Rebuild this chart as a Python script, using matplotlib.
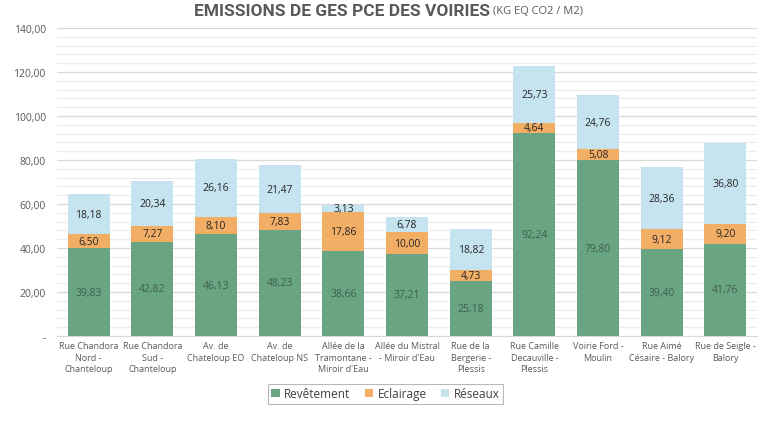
import matplotlib
matplotlib.use("Agg")
import matplotlib.pyplot as plt
from matplotlib.ticker import MultipleLocator, FuncFormatter
import numpy as np

categories = ["Rue Chandora\nNord -\nChanteloup", "Rue Chandora\nSud -\nChanteloup", "Av. de\nChateloup EO",
              "Av. de\nChateloup NS", "Allée de la\nTramontane -\nMiroir d'Eau", "Allée du Mistral\n- Miroir d'Eau",
              "Rue de la\nBergerie -\nPlessis", "Rue Camille\nDecauville -\nPlessis", "Voirie Ford -\nMoulin",
              "Rue Aimé\nCésaire - Balory", "Rue de Seigle -\nBalory"]
revetement = [39.83, 42.82, 46.13, 48.23, 38.66, 37.21, 25.18, 92.24, 79.80, 39.40, 41.76]
eclairage = [6.50, 7.27, 8.10, 7.83, 17.86, 10.00, 4.73, 4.64, 5.08, 9.12, 9.20]
reseaux = [18.18, 20.34, 26.16, 21.47, 3.13, 6.78, 18.82, 25.73, 24.76, 28.36, 36.80]
series_names = ["Revêtement", "Eclairage", "Réseaux"]

c_green = "#69a583"
c_orange = "#f3ae66"
c_blue = "#c6e4ef"

plt.rcParams['font.family'] = ['Open Sans', 'DejaVu Sans']

fig = plt.figure(figsize=(7.68, 4.27), dpi=100)
ax = fig.add_axes([0.074, 0.211, 0.912, 0.721])

x = np.arange(len(categories))
w = 0.66
rev = np.array(revetement); ecl = np.array(eclairage); res = np.array(reseaux)
b1 = ax.bar(x, rev, w, color=c_green, label=series_names[0], zorder=3)
b2 = ax.bar(x, ecl, w, bottom=rev, color=c_orange, label=series_names[1], zorder=3)
b3 = ax.bar(x, res, w, bottom=rev + ecl, color=c_blue, label=series_names[2], zorder=3)

fmt = lambda v: f"{v:.2f}".replace(".", ",")
for i in range(len(x)):
    ax.text(x[i], rev[i] / 2, fmt(rev[i]), ha="center", va="center", fontsize=7.5, color="#3f5f4b", zorder=4)
    ax.text(x[i], rev[i] + ecl[i] / 2, fmt(ecl[i]), ha="center", va="center", fontsize=7.5, color="#262626", zorder=4)
    ax.text(x[i], rev[i] + ecl[i] + res[i] / 2, fmt(res[i]), ha="center", va="center", fontsize=7.5, color="#262626", zorder=4)

ax.set_xlim(-0.5, len(x) - 0.5)
ax.set_ylim(0, 140)
ax.yaxis.set_major_locator(MultipleLocator(20))
ax.yaxis.set_minor_locator(MultipleLocator(4))
ax.yaxis.set_major_formatter(FuncFormatter(lambda v, p: "-" if v == 0 else f"{v:.2f}".replace(".", ",")))
ax.grid(axis="y", which="major", color="#d9d9d9", linewidth=0.9, zorder=0)
ax.grid(axis="y", which="minor", color="#ececec", linewidth=0.8, zorder=0)
ax.tick_params(axis="y", which="both", length=0, labelsize=7.5, labelcolor="#595959", pad=8)
ax.tick_params(axis="x", length=0, labelsize=6.5, labelcolor="#595959", pad=4)
ax.set_xticks(x)
ax.set_xticklabels(categories, linespacing=1.3)
for s in ["top", "right", "left"]:
    ax.spines[s].set_visible(False)
ax.spines["bottom"].set_color("#d9d9d9")
ax.set_axisbelow(True)

leg = fig.legend(handles=[b1, b2, b3], loc="center", bbox_to_anchor=(0.502, 0.075), ncol=3,
                 fontsize=8.5, frameon=True, fancybox=False, handlelength=0.7, handleheight=0.7,
                 handletextpad=0.4, columnspacing=1.2, borderpad=0.3, labelcolor="#404040")
leg.get_frame().set_edgecolor("#a6a6a6")
leg.get_frame().set_linewidth(0.8)

# Title in two parts
t1 = fig.text(0.5, 0.972, "EMISSIONS DE GES PCE DES VOIRIES", ha="left", va="center",
              fontsize=12.5, fontweight="bold", color="#595959", family=["Liberation Sans Narrow", "Roboto", "DejaVu Sans"])
t2 = fig.text(0.5, 0.972, " (KG EQ CO2 / M2)", ha="left", va="center", fontsize=8, color="#595959")
fig.canvas.draw()
r = fig.canvas.get_renderer()
bb1 = t1.get_window_extent(r); bb2 = t2.get_window_extent(r)
total = bb1.width + bb2.width
start = (fig.bbox.width - total) / 2 + 5
t1.set_x(start / fig.bbox.width)
t2.set_x((start + bb1.width) / fig.bbox.width)

fig.savefig("out.png", dpi=100, facecolor="white")
